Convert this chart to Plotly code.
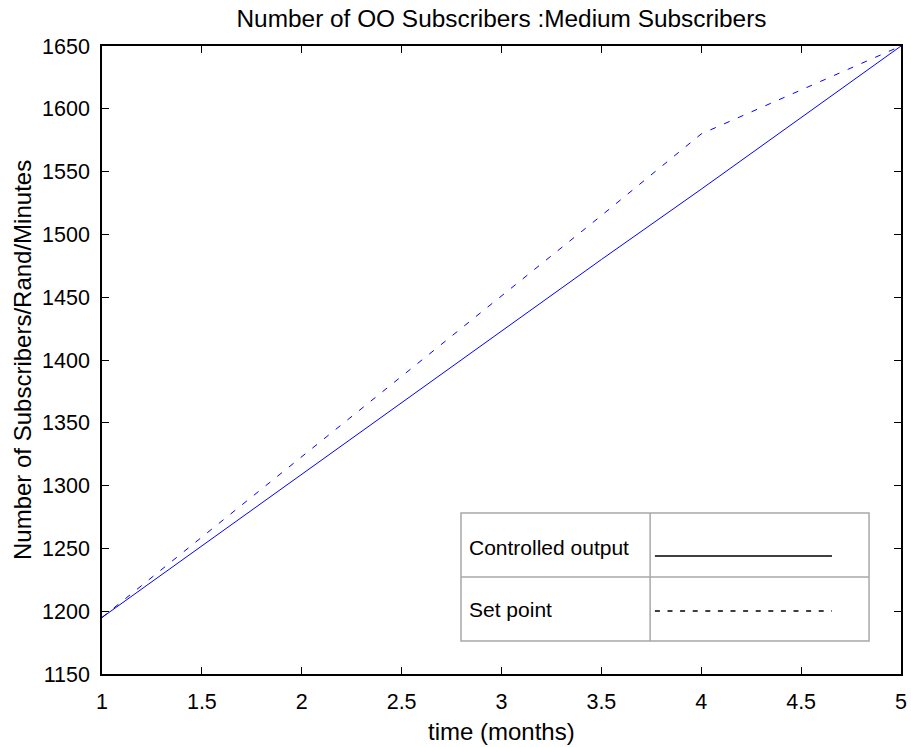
import plotly.graph_objects as go

time_months = [1, 1.5, 2, 2.5, 3, 3.5, 4, 4.5, 5]
controlled_output = [1195, 1252, 1309, 1366, 1423, 1480, 1536, 1593, 1650]
set_point = [1195, 1259, 1323, 1387, 1451, 1515, 1580, 1615, 1650]
x_ticks = [1, 1.5, 2, 2.5, 3, 3.5, 4, 4.5, 5]
y_ticks = [1150, 1200, 1250, 1300, 1350, 1400, 1450, 1500, 1550, 1600, 1650]

FONT = "Liberation Sans, Arial, sans-serif"
TICK_SIZE = 21.5
TITLE_SIZE = 24

fig = go.Figure()
fig.add_trace(go.Scatter(x=time_months, y=controlled_output, mode="lines",
                         line=dict(color="#0000ff", width=1), showlegend=False))
fig.add_trace(go.Scatter(x=time_months, y=set_point, mode="lines",
                         line=dict(color="#0000ff", width=1, dash="6px,9px"), showlegend=False))

axis_common = dict(showline=True, linecolor="black", linewidth=1.5, mirror="ticks",
                   ticks="inside", ticklen=7, tickcolor="black", tickwidth=1,
                   showgrid=False, zeroline=False, automargin=False,
                   tickfont=dict(family=FONT, size=TICK_SIZE, color="black"))

fig.update_xaxes(range=[1, 5], tickvals=x_ticks, ticktext=[f"{v:g}" for v in x_ticks],
                 ticklabelstandoff=7, **axis_common)
fig.update_yaxes(range=[1150, 1650], tickvals=y_ticks, ticklabelstandoff=6, **axis_common)

# legend table drawn in paper coordinates
gx0, gx1, gxm = 0.4493, 0.960, 0.686
gy0, gy1, gym = 0.0525, 0.2564, 0.1545
grey = "#a8a8a8"
shapes = [
    dict(type="rect", xref="paper", yref="paper", x0=gx0, x1=gx1, y0=gy0, y1=gy1,
         line=dict(color=grey, width=1.5), fillcolor="white", layer="above"),
    dict(type="line", xref="paper", yref="paper", x0=gxm, x1=gxm, y0=gy0, y1=gy1,
         line=dict(color=grey, width=1.5)),
    dict(type="line", xref="paper", yref="paper", x0=gx0, x1=gx1, y0=gym, y1=gym,
         line=dict(color=grey, width=1.5)),
    dict(type="line", xref="paper", yref="paper", x0=0.692, x1=0.9136, y0=0.1879, y1=0.1879,
         line=dict(color="black", width=1.5)),
    dict(type="line", xref="paper", yref="paper", x0=0.692, x1=0.9136, y0=0.1003, y1=0.1003,
         line=dict(color="black", width=1.5, dash="5px,7.6px")),
]
annotations = [
    dict(text="Controlled output", xref="paper", yref="paper", x=0.4568, y=0.2022,
         xanchor="left", yanchor="middle", showarrow=False,
         font=dict(family=FONT, size=21, color="black")),
    dict(text="Set point", xref="paper", yref="paper", x=0.4568, y=0.1035,
         xanchor="left", yanchor="middle", showarrow=False,
         font=dict(family=FONT, size=21, color="black")),
    dict(text="time (months)", xref="paper", yref="paper", x=0.5, y=-0.0908,
         xanchor="center", yanchor="middle", showarrow=False,
         font=dict(family=FONT, size=TITLE_SIZE, color="black")),
    dict(text="Number of Subscribers/Rand/Minutes", xref="paper", yref="paper",
         x=-0.1001, y=0.5, textangle=-90,
         xanchor="center", yanchor="middle", showarrow=False,
         font=dict(family=FONT, size=TITLE_SIZE, color="black")),
]

fig.update_layout(
    width=911, height=747, autosize=False,
    margin=dict(l=102, r=10, t=46, b=73, autoexpand=False),
    paper_bgcolor="white", plot_bgcolor="white",
    title=dict(text="Number of OO Subscribers :Medium Subscribers", x=0.5, xref="paper",
               y=1 - 18 / 747, yanchor="middle",
               font=dict(family=FONT, size=24.4, color="black")),
    shapes=shapes, annotations=annotations, showlegend=False,
)

fig.write_html("out.html")
